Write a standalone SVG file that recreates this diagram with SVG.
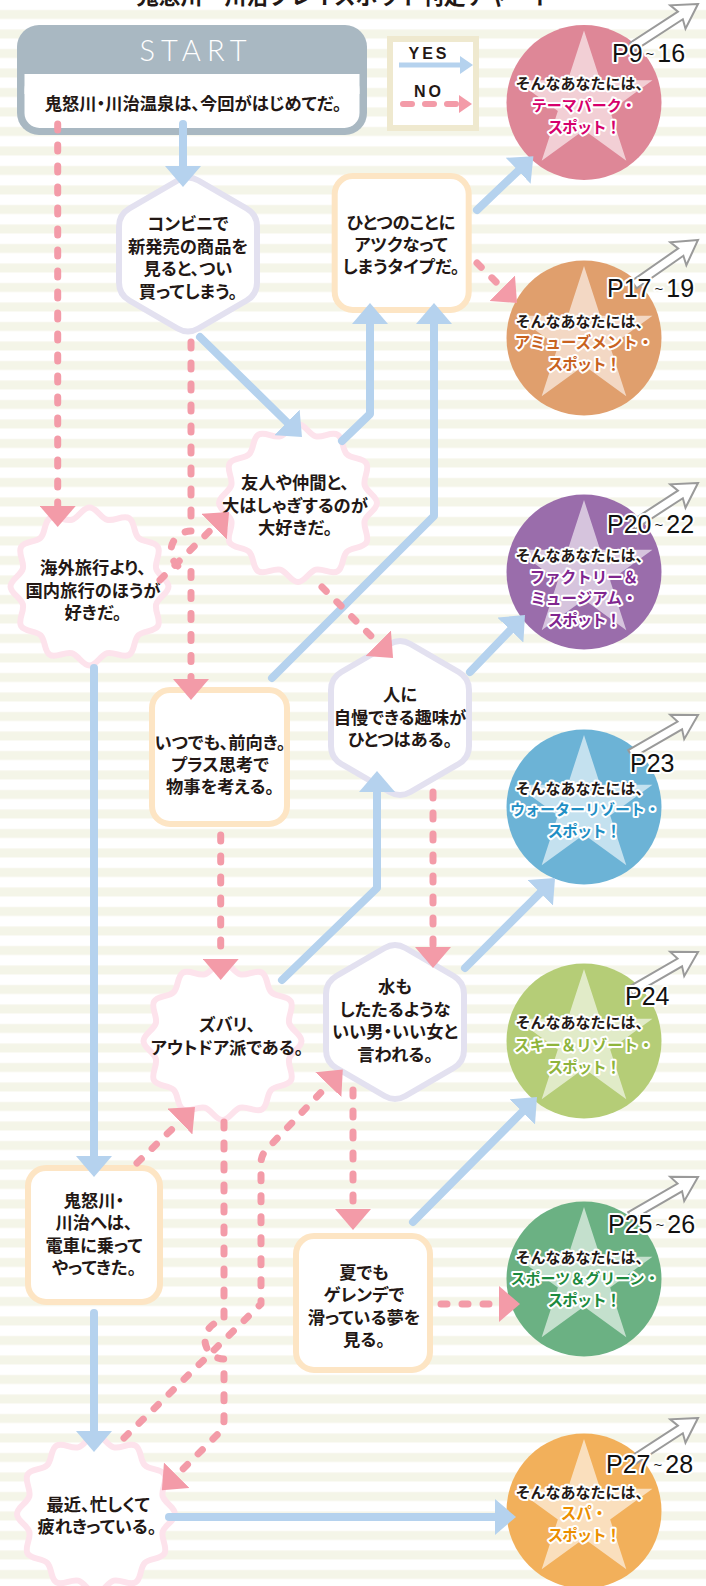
<svg xmlns="http://www.w3.org/2000/svg" xmlns:xlink="http://www.w3.org/1999/xlink" width="706" height="1586" viewBox="0 0 706 1586">
<style>
.wv{fill:#fff;stroke:#fde3ec;stroke-width:6}
.hx{fill:#fff;stroke:#e3e1f0;stroke-width:6}
.rc{fill:#fff;stroke:#fde5c4;stroke-width:6}
.t{font-family:'Noto Sans CJK JP','Noto Sans CJK SC',sans-serif;font-weight:700;font-size:17.3px;fill:#231815;text-anchor:middle;font-feature-settings:"palt"}
.yes{fill:none;stroke:#b5d2ee;stroke-width:8;stroke-linecap:round;stroke-linejoin:round;marker-end:url(#mb)}
.no{fill:none;stroke:#f39ba8;stroke-width:7;stroke-linecap:round;stroke-linejoin:round;stroke-dasharray:6 15;marker-end:url(#mp)}
.star{fill:#fff;fill-opacity:.6}
.ct{font-family:'Noto Sans CJK JP','Noto Sans CJK SC',sans-serif;font-weight:700;font-size:15px;text-anchor:middle;stroke:#fff;stroke-width:4;paint-order:stroke;stroke-linejoin:round}
.cc{font-size:15.5px}
.sp{font-size:15.5px;letter-spacing:-1px}
.pl{font-family:'Liberation Sans',Arial,sans-serif;font-size:25px;fill:#111;stroke:#fff;stroke-width:4;paint-order:stroke;stroke-linejoin:round}
.ga{fill:#fff;stroke:#9a9a9a;stroke-width:2;stroke-linejoin:miter}
.lg{font-family:'Liberation Sans',Arial,sans-serif;font-weight:700;font-size:16px;letter-spacing:3px;fill:#231815;text-anchor:middle}
.sh{font-family:Lato,'Open Sans',sans-serif;font-weight:300;font-size:29px;letter-spacing:6px;fill:#fff;text-anchor:middle}
.ti{font-family:'Noto Sans CJK JP','Noto Sans CJK SC',sans-serif;font-weight:700;font-size:22px;fill:#231815;text-anchor:middle}
</style>
<defs>
<pattern id="bg" x="0" y="0" width="706" height="19.5" patternUnits="userSpaceOnUse"><rect x="0" y="10" width="706" height="9" fill="#f4f5e8"/></pattern>
<path id="wv" d="M79,0 C79,7 68.46,11.1 66.65,17.86 C64.84,24.62 71.92,33.44 68.42,39.5 C64.92,45.56 53.74,43.84 48.79,48.79 C43.84,53.74 45.56,64.92 39.5,68.42 C33.44,71.92 24.62,64.84 17.86,66.65 C11.1,68.46 7,79 0,79 C-7,79 -11.1,68.46 -17.86,66.65 C-24.62,64.84 -33.44,71.92 -39.5,68.42 C-45.56,64.92 -43.84,53.74 -48.79,48.79 C-53.74,43.84 -64.92,45.56 -68.42,39.5 C-71.92,33.44 -64.84,24.62 -66.65,17.86 C-68.46,11.1 -79,7 -79,0 C-79,-7 -68.46,-11.1 -66.65,-17.86 C-64.84,-24.62 -71.92,-33.44 -68.42,-39.5 C-64.92,-45.56 -53.74,-43.84 -48.79,-48.79 C-43.84,-53.74 -45.56,-64.92 -39.5,-68.42 C-33.44,-71.92 -24.62,-64.84 -17.86,-66.65 C-11.1,-68.46 -7,-79 0,-79 C7,-79 11.1,-68.46 17.86,-66.65 C24.62,-64.84 33.44,-71.92 39.5,-68.42 C45.56,-64.92 43.84,-53.74 48.79,-48.79 C53.74,-43.84 64.92,-45.56 68.42,-39.5 C71.92,-33.44 64.84,-24.62 66.65,-17.86 C68.46,-11.1 79,-7 79,0 Z"/>
<path id="hx" d="M10.38,-73.98 L58.62,-46.02 Q69,-40 69,-28 L69,28 Q69,40 58.62,46.02 L10.38,73.98 Q0,80 -10.38,73.98 L-58.62,46.02 Q-69,40 -69,28 L-69,-28 Q-69,-40 -58.62,-46.02 L-10.38,-73.98 Q0,-80 10.38,-73.98 Z"/>
<polygon id="st" points="0,-72 16.16,-22.25 68.48,-22.25 26.15,8.5 42.32,58.25 0,27.5 -42.32,58.25 -26.15,8.5 -68.48,-22.25 -16.16,-22.25"/>
<path id="ga" d="M0,0 L-24,-14 L-21,-4.5 L-78,-4.5 L-78,4.5 L-21,4.5 L-24,14 Z"/>
<marker id="mb" viewBox="0 -18 21 36" refX="1" refY="0" markerWidth="21" markerHeight="36" markerUnits="userSpaceOnUse" orient="auto"><path d="M0,-18L21,0L0,18Z" fill="#b5d2ee"/></marker>
<marker id="mp" viewBox="0 -18 21 36" refX="1" refY="0" markerWidth="21" markerHeight="36" markerUnits="userSpaceOnUse" orient="auto"><path d="M0,-18L21,0L0,18Z" fill="#f39ba8"/></marker>
<marker id="mbs" viewBox="0 -9 13 18" refX="1" refY="0" markerWidth="13" markerHeight="18" markerUnits="userSpaceOnUse" orient="auto"><path d="M0,-9L13,0L0,9Z" fill="#b5d2ee"/></marker>
<marker id="mps" viewBox="0 -9 13 18" refX="1" refY="0" markerWidth="13" markerHeight="18" markerUnits="userSpaceOnUse" orient="auto"><path d="M0,-9L13,0L0,9Z" fill="#f39ba8"/></marker>
</defs>
<rect width="706" height="1586" fill="#fff"/>
<rect width="706" height="1586" fill="url(#bg)"/>
<text class="ti" x="345" y="3.5">鬼怒川・川治プレイスポット判定チャート</text>

<g id="start">
<rect x="17" y="25" width="350" height="110" rx="22" fill="#a9b8c2"/>
<rect x="24.5" y="74" width="335" height="54" rx="15" fill="#fff"/>
<rect x="24.5" y="74" width="335" height="20" fill="#fff"/>
<text class="sh" x="196" y="61">START</text>
<text class="t" x="193" y="109.5" font-size="18.5">鬼怒川・川治温泉は、今回がはじめてだ。</text>
</g>

<g id="legend">
<rect x="390" y="39" width="86" height="89" fill="#fff" stroke="#efe9cf" stroke-width="6"/>
<text class="lg" x="429" y="59">YES</text>
<path d="M399,65 H461" fill="none" stroke="#b5d2ee" stroke-width="5" marker-end="url(#mbs)"/>
<text class="lg" x="429" y="97">NO</text>
<path d="M403,104 H460" fill="none" stroke="#f39ba8" stroke-width="6" stroke-linecap="round" stroke-dasharray="9 13" marker-end="url(#mps)"/>
</g>

<g id="r-themepark">
<circle cx="584" cy="102.5" r="77.5" fill="#de8797"/>
<use href="#st" x="584" y="102.5" class="star"/>
<text class="ct" x="583" y="88.5" fill="#231815">そんなあなたには、</text>
<text class="ct" x="584" y="110.5" fill="#d6006c" font-size="16">テーマパーク・</text>
<text class="ct sp" x="584" y="132.5" fill="#d6006c">スポット！</text>
<use href="#ga" transform="translate(698,4) rotate(-33)" class="ga"/>
<text class="pl" x="612" y="62">P9<tspan font-size="15" dx="3" dy="-3">~</tspan><tspan dx="3" dy="3">16</tspan></text>
</g>

<g id="r-amusement">
<circle cx="584" cy="338" r="77.5" fill="#e09f6d"/>
<use href="#st" x="584" y="338" class="star"/>
<text class="ct" x="583" y="327" fill="#231815">そんなあなたには、</text>
<text class="ct cc" x="584" y="348" fill="#c8621e">アミューズメント・</text>
<text class="ct sp" x="584" y="369.5" fill="#c8621e">スポット！</text>
<use href="#ga" transform="translate(698,240) rotate(-35)" class="ga"/>
<text class="pl" x="607" y="297">P17<tspan font-size="15" dx="3" dy="-3">~</tspan><tspan dx="3" dy="3">19</tspan></text>
</g>

<g id="r-factory">
<circle cx="584" cy="572" r="77.5" fill="#9a6dab"/>
<use href="#st" x="584" y="572" class="star"/>
<text class="ct" x="583" y="560.5" fill="#231815">そんなあなたには、</text>
<text class="ct cc" x="584" y="582.5" fill="#80258f">ファクトリー＆</text>
<text class="ct cc" x="584" y="603.5" fill="#80258f">ミュージアム・</text>
<text class="ct sp" x="584" y="625.5" fill="#80258f">スポット！</text>
<use href="#ga" transform="translate(698,483) rotate(-33)" class="ga"/>
<text class="pl" x="607" y="533">P20<tspan font-size="15" dx="3" dy="-3">~</tspan><tspan dx="3" dy="3">22</tspan></text>
</g>

<g id="r-water">
<circle cx="584" cy="807" r="77.5" fill="#6cb3d6"/>
<use href="#st" x="584" y="807" class="star"/>
<text class="ct" x="583" y="793.5" fill="#231815">そんなあなたには、</text>
<text class="ct" x="585" y="814.5" fill="#1f8fc5" font-size="14.5">ウォーターリゾート・</text>
<text class="ct sp" x="584" y="836.5" fill="#1f8fc5">スポット！</text>
<use href="#ga" transform="translate(698,715) rotate(-30)" class="ga"/>
<text class="pl" x="630" y="772">P23</text>
</g>

<g id="r-ski">
<circle cx="584" cy="1041" r="77.5" fill="#b5cd77"/>
<use href="#st" x="584" y="1041" class="star"/>
<text class="ct" x="583" y="1027.5" fill="#231815">そんなあなたには、</text>
<text class="ct cc" x="584" y="1050.5" fill="#8fb43c">スキー＆リゾート・</text>
<text class="ct sp" x="584" y="1072.5" fill="#8fb43c">スポット！</text>
<use href="#ga" transform="translate(698,952) rotate(-30)" class="ga"/>
<text class="pl" x="625" y="1005">P24</text>
</g>

<g id="r-sports">
<circle cx="584" cy="1279" r="77.5" fill="#6bb183"/>
<use href="#st" x="584" y="1279" class="star"/>
<text class="ct" x="583" y="1262.5" fill="#231815">そんなあなたには、</text>
<text class="ct" x="585" y="1283.5" fill="#1d8a3e" font-size="14.8">スポーツ＆グリーン・</text>
<text class="ct sp" x="584" y="1305.5" fill="#1d8a3e">スポット！</text>
<use href="#ga" transform="translate(698,1177) rotate(-30)" class="ga"/>
<text class="pl" x="608" y="1233">P25<tspan font-size="15" dx="3" dy="-3">~</tspan><tspan dx="3" dy="3">26</tspan></text>
</g>

<g id="r-spa">
<circle cx="584" cy="1511" r="77.5" fill="#f2b05b"/>
<use href="#st" x="584" y="1511" class="star"/>
<text class="ct" x="583" y="1497.5" fill="#231815">そんなあなたには、</text>
<text class="ct cc" x="584" y="1518.5" fill="#eb8f00">スパ・</text>
<text class="ct sp" x="584" y="1540.5" fill="#eb8f00">スポット！</text>
<use href="#ga" transform="translate(698,1418) rotate(-33)" class="ga"/>
<text class="pl" x="606" y="1473">P27<tspan font-size="15" dx="3" dy="-3">~</tspan><tspan dx="3" dy="3">28</tspan></text>
</g>

<g id="n-konbini">
<use href="#hx" x="188" y="254.5" class="hx"/>
<text class="t" x="188" y="230">コンビニで</text>
<text class="t" x="188" y="252.5">新発売の商品を</text>
<text class="t" x="188" y="275">見ると、つい</text>
<text class="t" x="188" y="297.5">買ってしまう。</text>
</g>

<g id="n-hitotsu">
<rect x="334.7" y="176" width="134" height="134" rx="18" class="rc"/>
<text class="t" x="401" y="229">ひとつのことに</text>
<text class="t" x="401" y="251">アツクなって</text>
<text class="t" x="401" y="273">しまうタイプだ。</text>
</g>

<g id="n-yujin">
<use href="#wv" x="298" y="503" class="wv"/>
<text class="t" x="295" y="489">友人や仲間と、</text>
<text class="t" x="295" y="511.5">大はしゃぎするのが</text>
<text class="t" x="295" y="534">大好きだ。</text>
</g>

<g id="n-kaigai">
<use href="#wv" x="89.5" y="586.5" class="wv"/>
<text class="t" x="93" y="574">海外旅行より、</text>
<text class="t" x="93" y="596.5">国内旅行のほうが</text>
<text class="t" x="93" y="619">好きだ。</text>
</g>

<g id="n-itsudemo">
<rect x="152" y="690" width="135" height="134" rx="18" class="rc"/>
<text class="t" x="220" y="749">いつでも、前向き。</text>
<text class="t" x="220" y="771">プラス思考で</text>
<text class="t" x="220" y="793">物事を考える。</text>
</g>

<g id="n-hitoni">
<use href="#hx" x="400" y="718" class="hx"/>
<text class="t" x="400" y="701">人に</text>
<text class="t" x="400" y="724">自慢できる趣味が</text>
<text class="t" x="400" y="746">ひとつはある。</text>
</g>

<g id="n-mizu">
<use href="#hx" x="395" y="1022" class="hx"/>
<text class="t" x="395" y="993">水も</text>
<text class="t" x="395" y="1015.5">したたるような</text>
<text class="t" x="395" y="1038">いい男・いい女と</text>
<text class="t" x="395" y="1060.5">言われる。</text>
</g>

<g id="n-zubari">
<use href="#wv" x="222.5" y="1041" class="wv"/>
<text class="t" x="227" y="1031">ズバリ、</text>
<text class="t" x="227" y="1053.5">アウトドア派である。</text>
</g>

<g id="n-densha">
<rect x="28" y="1168" width="132" height="134" rx="18" class="rc"/>
<text class="t" x="94" y="1206.5">鬼怒川・</text>
<text class="t" x="94" y="1229">川治へは、</text>
<text class="t" x="94" y="1251.5">電車に乗って</text>
<text class="t" x="94" y="1274">やってきた。</text>
</g>

<g id="n-natsu">
<rect x="296" y="1236" width="134" height="134" rx="18" class="rc"/>
<text class="t" x="364" y="1278.5">夏でも</text>
<text class="t" x="364" y="1301">ゲレンデで</text>
<text class="t" x="364" y="1323.5">滑っている夢を</text>
<text class="t" x="364" y="1346">見る。</text>
</g>

<g id="n-saikin">
<use href="#wv" x="96" y="1514" class="wv"/>
<text class="t" x="98" y="1510.5">最近、忙しくて</text>
<text class="t" x="97" y="1533">疲れきっている。</text>
</g>

<g id="connectors">
<path class="yes" d="M183,124 V167"/>
<path class="yes" d="M200,337 L287.7,423"/>
<path class="yes" d="M342,441 L370,414 V323"/>
<path class="yes" d="M272,678 L434,516 V323"/>
<path class="yes" d="M477,210 L518.9,170.1"/>
<path class="yes" d="M470,672 L511.1,629.4"/>
<path class="yes" d="M282,980 L377,888 V791"/>
<path class="yes" d="M465,968 L540.9,892.1"/>
<path class="yes" d="M413,1222 L522.9,1111.2"/>
<path class="yes" d="M94,668 V1157"/>
<path class="yes" d="M94,1313 V1432"/>
<path class="yes" d="M169,1517 H496"/>
<path class="no" d="M57.7,124 V507"/>
<path class="no" d="M160,580 L214.8,526"/>
<path class="no" d="M191,342 V531 A20,20 0 0 0 191,571 V680"/>
<path class="no" d="M322,587 L378.9,643.9"/>
<path class="no" d="M477,263 L502.9,288.9"/>
<path class="no" d="M433,792 V948"/>
<path class="no" d="M220.7,835 V960"/>
<path class="no" d="M353,1090 V1210"/>
<path class="no" d="M441,1304 H500"/>
<path class="no" d="M137,1163 L180.6,1120.9"/>
<path class="no" d="M124,1438 L261,1304 V1163 Q261,1155 267,1149 L329,1084"/>
<path class="no" d="M224,1122 V1321 A19,19 0 0 0 224,1359 V1420 Q224,1428 218,1434 L176,1476"/>
</g>
</svg>
